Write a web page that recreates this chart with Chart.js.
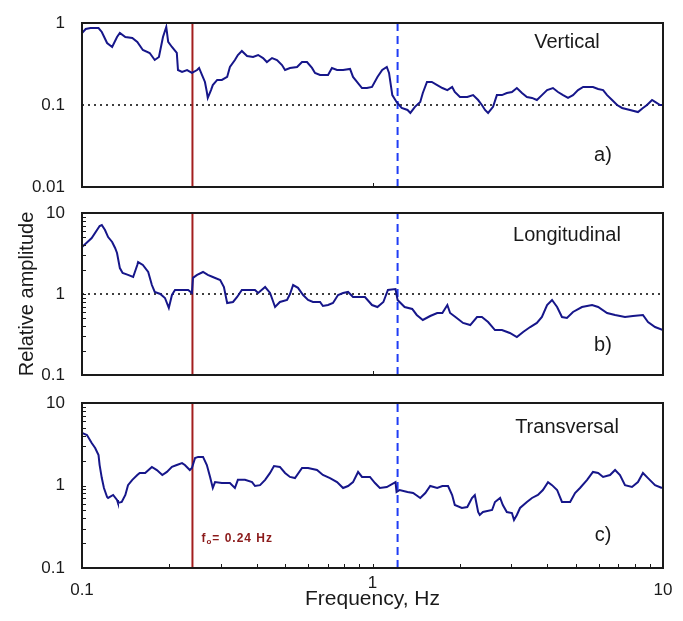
<!DOCTYPE html>
<html>
<head>
<meta charset="utf-8">
<title>Relative amplitude spectra</title>
<script src="https://cdn.jsdelivr.net/npm/chart.js@4.4.1/dist/chart.umd.min.js"></script>
<style>
    body { margin: 0; background: #fff; }
    #wrap { position: relative; width: 683px; height: 621px; }
    #wrap canvas { position: absolute; left: 0; }
</style>
</head>
<body>
<div id="wrap">
    <canvas id="panelA" width="683" height="200" style="top:0"></canvas>
    <canvas id="panelB" width="683" height="190" style="top:200px"></canvas>
    <canvas id="panelC" width="683" height="231" style="top:390px"></canvas>
</div>
<script>
// frequencies (Hz) and relative amplitudes of each component
const freqVertical = [0.100,0.103,0.107,0.114,0.117,0.122,0.127,0.132,0.135,0.141,0.149,0.155,0.162,0.171,0.178,0.184,0.190,0.195,0.198,0.204,0.212,0.214,0.221,0.230,0.239,0.249,0.253,0.259,0.265,0.269,0.271,0.278,0.282,0.292,0.303,0.316,0.323,0.336,0.344,0.355,0.370,0.388,0.404,0.420,0.433,0.451,0.469,0.488,0.500,0.520,0.550,0.572,0.595,0.619,0.634,0.660,0.703,0.725,0.755,0.792,0.837,0.857,0.920,0.957,0.996,1.04,1.08,1.12,1.14,1.17,1.21,1.26,1.32,1.35,1.40,1.46,1.49,1.54,1.60,1.67,1.74,1.81,1.88,1.92,2.00,2.12,2.22,2.31,2.38,2.44,2.50,2.60,2.68,2.79,2.90,3.02,3.14,3.27,3.40,3.54,3.68,3.83,3.99,4.18,4.35,4.53,4.71,4.90,5.10,5.31,5.74,5.98,6.22,6.42,6.68,6.95,7.23,7.70,8.20,8.53,8.81,9.17,9.39,9.77,10.0];
const ampVertical = [0.755,0.845,0.869,0.869,0.777,0.570,0.510,0.675,0.755,0.675,0.656,0.587,0.469,0.431,0.354,0.385,0.675,0.894,0.587,0.510,0.431,0.267,0.253,0.267,0.246,0.267,0.283,0.232,0.191,0.144,0.122,0.152,0.175,0.202,0.202,0.220,0.291,0.354,0.407,0.456,0.396,0.385,0.407,0.374,0.334,0.374,0.354,0.307,0.267,0.283,0.291,0.334,0.334,0.283,0.246,0.232,0.232,0.283,0.267,0.267,0.275,0.220,0.161,0.161,0.166,0.220,0.267,0.291,0.246,0.132,0.109,0.092,0.087,0.080,0.095,0.109,0.140,0.191,0.191,0.175,0.161,0.152,0.166,0.144,0.125,0.125,0.132,0.115,0.100,0.087,0.080,0.095,0.132,0.132,0.140,0.144,0.161,0.140,0.125,0.122,0.115,0.132,0.152,0.161,0.144,0.132,0.122,0.132,0.152,0.166,0.166,0.157,0.152,0.132,0.115,0.100,0.092,0.087,0.082,0.092,0.100,0.115,0.109,0.100,0.100];

const freqLongitudinal = [0.100,0.108,0.115,0.117,0.120,0.123,0.127,0.130,0.132,0.135,0.138,0.144,0.150,0.155,0.156,0.162,0.169,0.174,0.178,0.186,0.193,0.199,0.204,0.209,0.218,0.232,0.239,0.241,0.249,0.261,0.271,0.282,0.299,0.308,0.316,0.331,0.342,0.355,0.373,0.394,0.404,0.427,0.444,0.462,0.480,0.508,0.520,0.533,0.554,0.577,0.600,0.624,0.660,0.675,0.703,0.731,0.761,0.792,0.824,0.857,0.942,0.996,1.04,1.09,1.13,1.20,1.22,1.29,1.37,1.42,1.49,1.58,1.67,1.74,1.81,1.85,1.95,2.05,2.17,2.29,2.38,2.50,2.64,2.79,2.97,3.14,3.30,3.49,3.68,3.83,3.99,4.15,4.32,4.49,4.67,4.90,5.26,5.70,5.98,6.42,6.84,7.40,7.88,8.53,8.88,9.39,10.0];
const ampLongitudinal = [3.80,4.91,6.91,7.11,6.17,5.05,4.39,3.70,3.21,2.09,1.82,1.72,1.62,2.28,2.48,2.28,1.87,1.29,1.06,1.00,0.893,0.672,0.972,1.12,1.12,1.12,1.03,1.58,1.72,1.87,1.72,1.62,1.49,1.22,0.774,0.797,0.918,1.12,1.12,1.12,1.03,1.22,1.03,0.691,0.797,0.843,1.00,1.29,1.19,0.972,0.843,0.797,0.797,0.711,0.731,0.774,0.972,1.03,1.06,0.918,0.918,0.731,0.691,0.797,1.12,1.15,0.843,0.691,0.653,0.551,0.478,0.535,0.583,0.583,0.731,0.583,0.506,0.439,0.414,0.520,0.520,0.451,0.359,0.359,0.330,0.294,0.340,0.391,0.439,0.520,0.731,0.843,0.691,0.520,0.506,0.600,0.691,0.731,0.691,0.583,0.551,0.520,0.535,0.551,0.451,0.391,0.359];

const freqTransversal = [0.100,0.104,0.108,0.111,0.114,0.115,0.117,0.119,0.122,0.123,0.128,0.132,0.133,0.137,0.141,0.144,0.149,0.155,0.158,0.165,0.174,0.181,0.189,0.196,0.204,0.212,0.221,0.226,0.235,0.239,0.245,0.251,0.261,0.269,0.276,0.282,0.287,0.303,0.323,0.336,0.344,0.364,0.385,0.394,0.410,0.427,0.444,0.458,0.480,0.500,0.520,0.541,0.572,0.600,0.644,0.675,0.714,0.755,0.792,0.824,0.857,0.892,0.920,0.980,1.02,1.06,1.12,1.20,1.21,1.24,1.32,1.38,1.46,1.52,1.58,1.67,1.74,1.82,1.88,1.92,2.03,2.12,2.20,2.25,2.31,2.34,2.40,2.58,2.64,2.75,2.81,2.90,3.02,3.07,3.14,3.22,3.40,3.54,3.71,3.86,4.02,4.15,4.32,4.49,4.79,4.98,5.18,5.48,5.74,5.98,6.22,6.57,6.84,7.11,7.40,7.82,8.20,8.53,8.88,9.39,9.92];
const ampTransversal = [4.33,4.09,3.27,2.85,2.34,1.77,1.23,0.933,0.726,0.706,0.767,0.667,0.614,0.631,0.767,1.01,1.17,1.34,1.42,1.42,1.68,1.54,1.34,1.46,1.68,1.77,1.87,1.77,1.54,1.63,2.15,2.22,2.22,1.77,1.27,0.933,1.10,1.07,1.07,0.933,1.17,1.17,1.10,0.986,1.01,1.17,1.42,1.72,1.68,1.42,1.27,1.23,1.63,1.63,1.54,1.34,1.23,1.10,0.933,0.986,1.10,1.46,1.27,1.27,1.07,0.933,0.959,1.10,0.834,0.882,0.834,0.811,0.706,0.811,0.986,0.933,0.986,0.986,0.767,0.580,0.534,0.549,0.706,0.767,0.477,0.439,0.477,0.505,0.631,0.706,0.580,0.477,0.464,0.382,0.439,0.534,0.631,0.706,0.767,0.882,1.10,1.01,0.882,0.631,0.631,0.811,0.933,1.17,1.46,1.42,1.27,1.34,1.54,1.34,1.01,0.959,1.10,1.42,1.23,1.01,0.933];

// marked frequencies: fundamental f0 and the upper limit
const f0 = 0.24;
const fUpper = 1.22;

// axis ranges and tick labels
const xTicks = [0.1, 1, 10];
const yTicksVertical = [0.01, 0.1, 1];
const yTicksHorizontal = [0.1, 1, 10];

const FONT = '"Liberation Sans", Arial, sans-serif';
const CURVE = '#16168a';
const RED = '#a31e1e';
const BLUE = '#1f3cf5';
const INK = '#1a1a1a';

// 2..9 of every decade plus inner decades, for the small inside ticks
function logSteps(min, max) {
    const out = [];
    for (let d = min; d < max * 0.999; d *= 10) {
        for (let k = 1; k <= 9; k++) {
            if (k === 1 && d === min) continue;
            out.push(Number((k * d).toPrecision(6)));
        }
    }
    return out;
}

const panelDecor = {
    id: 'panelDecor',
    afterDatasetsDraw(chart, args, o) {
        const { ctx, chartArea: a, scales: { x, y } } = chart;
        ctx.save();

        // inside tick marks
        ctx.strokeStyle = INK;
        ctx.lineWidth = 1;
        ctx.beginPath();
        const xt = o.xMinor ? logSteps(x.min, x.max) : xTicks.slice(1, -1);
        xt.forEach(v => {
            const px = Math.round(x.getPixelForValue(v)) + 0.5;
            ctx.moveTo(px, a.bottom);
            ctx.lineTo(px, a.bottom - 4);
        });
        if (o.yMinor) {
            logSteps(y.min, y.max).forEach(v => {
                const py = Math.round(y.getPixelForValue(v)) + 0.5;
                ctx.moveTo(a.left, py);
                ctx.lineTo(a.left + 4, py);
            });
        }
        ctx.stroke();

        // frame
        ctx.lineWidth = 2;
        ctx.strokeRect(a.left, a.top, a.right - a.left, a.bottom - a.top);

        // y tick labels
        ctx.fillStyle = INK;
        ctx.font = `17px ${FONT}`;
        ctx.textAlign = 'right';
        ctx.textBaseline = 'middle';
        o.yTicks.forEach(v => ctx.fillText(String(v), a.left - 17, y.getPixelForValue(v)));

        // component name and panel letter
        ctx.font = `20px ${FONT}`;
        ctx.textAlign = 'center';
        ctx.textBaseline = 'alphabetic';
        ctx.fillText(o.name, a.right - 96, a.top + o.nameDy);
        ctx.fillText(o.tag, a.right - 60, a.top + 138);

        if (o.yTitle) {
            ctx.save();
            ctx.translate(27, (a.top + a.bottom) / 2);
            ctx.rotate(-Math.PI / 2);
            ctx.textBaseline = 'middle';
            ctx.fillText(o.yTitle, 0, 0);
            ctx.restore();
        }

        if (o.xAxis) {
            ctx.font = `17px ${FONT}`;
            ctx.textBaseline = 'middle';
            xTicks.forEach((v, i) => {
                // the middle label sits a little higher, above the axis title
                const dy = (i === 1) ? 15 : 22;
                ctx.fillText(String(v), x.getPixelForValue(v), a.bottom + dy);
            });
            ctx.font = `21px ${FONT}`;
            ctx.textBaseline = 'alphabetic';
            ctx.fillText('Frequency, Hz', x.getPixelForValue(1), a.bottom + 37);

            // f0 annotation next to the red line
            const lx = x.getPixelForValue(f0) + 9;
            const ly = a.top + 139;
            ctx.fillStyle = '#8b1a1a';
            ctx.textAlign = 'left';
            ctx.letterSpacing = '1px';
            ctx.font = `bold 12px ${FONT}`;
            ctx.fillText('f', lx, ly);
            let cx = lx + ctx.measureText('f').width;
            ctx.font = `bold 8px ${FONT}`;
            ctx.fillText('o', cx, ly + 2);
            cx += ctx.measureText('o').width;
            ctx.font = `bold 12px ${FONT}`;
            ctx.fillText('= ' + f0.toFixed(2) + ' Hz', cx, ly);
            ctx.letterSpacing = '0px';
        }
        ctx.restore();
    }
};

function makePanel(id, freq, amp, yTicks, level, decor, pad) {
    const yMin = yTicks[0];
    const yMax = yTicks[yTicks.length - 1];
    const datasets = [
        {
            data: freq.map((f, i) => ({ x: f, y: amp[i] })),
            borderColor: CURVE,
            borderWidth: 2
        },
        {
            data: [{ x: f0, y: yMin }, { x: f0, y: yMax }],
            borderColor: RED,
            borderWidth: 2
        },
        {
            data: [{ x: fUpper, y: yMin }, { x: fUpper, y: yMax }],
            borderColor: BLUE,
            borderWidth: 2,
            borderDash: [8, 5]
        }
    ];
    if (level !== null) {
        datasets.push({
            data: [{ x: xTicks[0], y: level }, { x: xTicks[2], y: level }],
            borderColor: '#000',
            borderWidth: 1.6,
            borderDash: [2, 4]
        });
    }

    decor.yTicks = yTicks;

    return new Chart(document.getElementById(id), {
        type: 'line',
        data: { datasets },
        options: {
            responsive: false,
            animation: false,
            events: [],
            layout: { padding: pad },
            elements: { point: { radius: 0 }, line: { tension: 0, fill: false } },
            plugins: {
                legend: { display: false },
                tooltip: { enabled: false },
                panelDecor: decor
            },
            scales: {
                x: {
                    type: 'logarithmic',
                    min: xTicks[0],
                    max: xTicks[2],
                    display: false
                },
                y: {
                    type: 'logarithmic',
                    min: yMin,
                    max: yMax,
                    afterFit: s => { s.width = 82; },
                    grid: { display: false, drawTicks: false },
                    border: { display: false },
                    ticks: { display: false }
                }
            }
        },
        plugins: [panelDecor]
    });
}

makePanel('panelA', freqVertical, ampVertical, yTicksVertical, 0.1,
    { name: 'Vertical', tag: 'a)', nameDy: 25, yMinor: false, xMinor: false },
    { top: 23, bottom: 13, left: 0, right: 20 });

makePanel('panelB', freqLongitudinal, ampLongitudinal, yTicksHorizontal, 1,
    { name: 'Longitudinal', tag: 'b)', nameDy: 28, yMinor: true, xMinor: false, yTitle: 'Relative amplitude' },
    { top: 13, bottom: 15, left: 0, right: 20 });

makePanel('panelC', freqTransversal, ampTransversal, yTicksHorizontal, null,
    { name: 'Transversal', tag: 'c)', nameDy: 30, yMinor: true, xMinor: true, xAxis: true },
    { top: 13, bottom: 53, left: 0, right: 20 });
</script>
</body>
</html>
